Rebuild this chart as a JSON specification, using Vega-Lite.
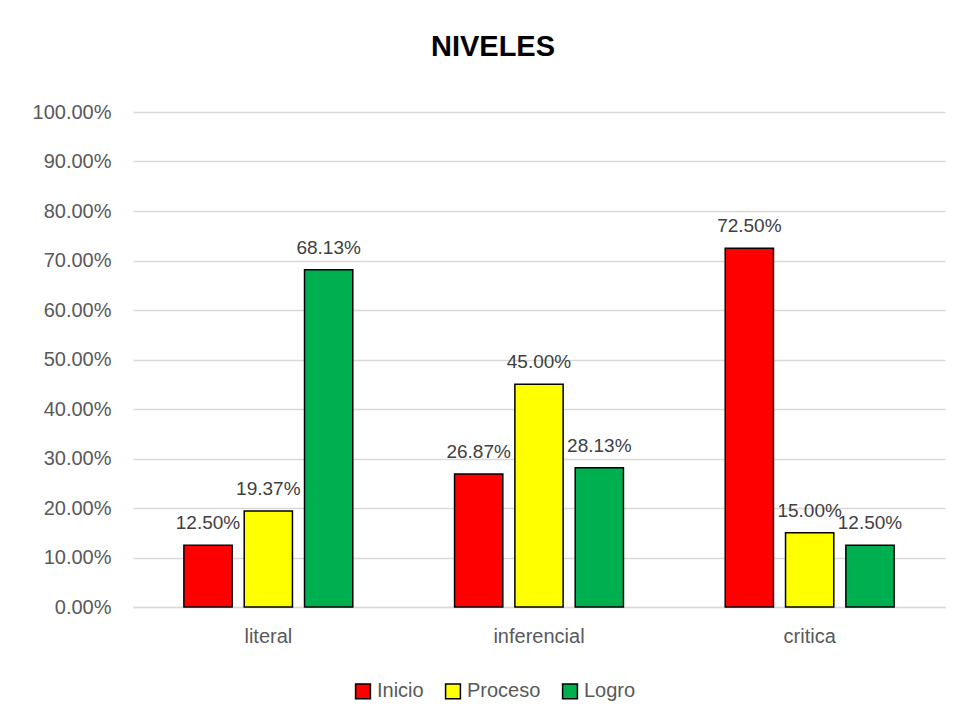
{
  "$schema": "https://vega.github.io/schema/vega-lite/v6.json",
  "autosize": {"type": "none"},
  "width": 812,
  "height": 495,
  "padding": {"left": 133, "top": 112, "right": 18, "bottom": 115},
  "background": "white",
  "config": {
    "font": "Liberation Sans",
    "view": {"stroke": null}
  },
  "title": {
    "text": "NIVELES",
    "fontSize": 29,
    "fontWeight": "bold",
    "color": "#000000",
    "anchor": "middle",
    "dx": -46,
    "offset": 40
  },
  "data": {
    "values": [
      {"nivel": "literal", "serie": "Inicio", "valor": 0.125},
      {"nivel": "literal", "serie": "Proceso", "valor": 0.1937},
      {"nivel": "literal", "serie": "Logro", "valor": 0.6813},
      {"nivel": "inferencial", "serie": "Inicio", "valor": 0.2687},
      {"nivel": "inferencial", "serie": "Proceso", "valor": 0.45},
      {"nivel": "inferencial", "serie": "Logro", "valor": 0.2813},
      {"nivel": "critica", "serie": "Inicio", "valor": 0.725},
      {"nivel": "critica", "serie": "Proceso", "valor": 0.15},
      {"nivel": "critica", "serie": "Logro", "valor": 0.125}
    ]
  },
  "encoding": {
    "x": {
      "field": "nivel",
      "type": "nominal",
      "sort": ["literal", "inferencial", "critica"],
      "scale": {"paddingInner": 0.376, "paddingOuter": 0.188},
      "axis": {
        "title": null,
        "labelAngle": 0,
        "labelFontSize": 20,
        "labelColor": "#595959",
        "labelPadding": 19,
        "ticks": false,
        "domainColor": "#d9d9d9",
        "domainWidth": 1.5
      }
    },
    "xOffset": {
      "field": "serie",
      "type": "nominal",
      "sort": ["Inicio", "Proceso", "Logro"],
      "scale": {"paddingInner": 0.2, "paddingOuter": 0}
    },
    "y": {
      "field": "valor",
      "type": "quantitative",
      "scale": {"domain": [0, 1]},
      "axis": {
        "title": null,
        "format": ".2%",
        "values": [0, 0.1, 0.2, 0.3, 0.4, 0.5, 0.6, 0.7, 0.8, 0.9, 1],
        "labelFontSize": 20,
        "labelColor": "#595959",
        "labelPadding": 22,
        "ticks": false,
        "domain": false,
        "gridColor": "#d9d9d9",
        "gridWidth": 1.5
      }
    }
  },
  "layer": [
    {
      "mark": {"type": "bar", "stroke": "#000000", "strokeWidth": 1.5},
      "encoding": {
        "color": {
          "field": "serie",
          "type": "nominal",
          "sort": ["Inicio", "Proceso", "Logro"],
          "scale": {"domain": ["Inicio", "Proceso", "Logro"], "range": ["#FF0000", "#FFFF00", "#00B050"]},
          "legend": {
            "title": null,
            "orient": "none",
            "direction": "horizontal",
            "legendX": 220,
            "legendY": 569,
            "symbolType": "square",
            "symbolSize": 220,
            "symbolStrokeColor": "#000000",
            "symbolStrokeWidth": 1.5,
            "labelFontSize": 20,
            "labelColor": "#595959",
            "labelOffset": 4,
            "columnPadding": 18
          }
        }
      }
    },
    {
      "mark": {"type": "text", "baseline": "bottom", "dy": -12, "fontSize": 19, "color": "#404040"},
      "encoding": {
        "text": {"field": "valor", "type": "quantitative", "format": ".2%"}
      }
    }
  ]
}
